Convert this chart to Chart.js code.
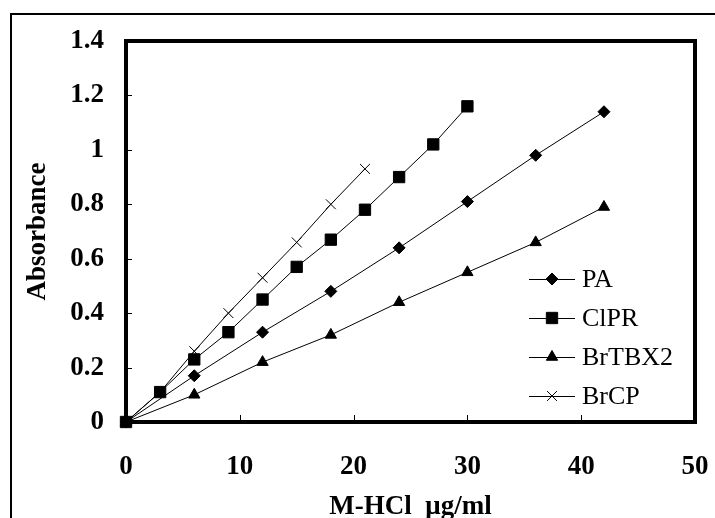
<!DOCTYPE html>
<html lang="en">
<head>
    <meta charset="UTF-8">
    <title>Absorbance vs M-HCl</title>
    <script src="https://cdn.jsdelivr.net/npm/chart.js"></script>
    <style>
        html, body {
            margin: 0;
            padding: 0;
            background: white;
        }
        #wrap {
            width: 715px;
            height: 518px;
        }
    </style>
</head>
<body>
    <div id="wrap"><canvas id="myChart"></canvas></div>
    <script>
        // concentrations (ug/ml) and absorbances
        const paX = [0, 6, 12, 18, 24, 30, 36, 42];
        const paY = [0, 0.17, 0.33, 0.48, 0.64, 0.81, 0.98, 1.14];

        const clprX = [0, 3, 6, 9, 12, 15, 18, 21, 24, 27, 30];
        const clprY = [0, 0.11, 0.23, 0.33, 0.45, 0.57, 0.67, 0.78, 0.90, 1.02, 1.16];

        const brtbxX = [0, 6, 12, 18, 24, 30, 36, 42];
        const brtbxY = [0, 0.10, 0.22, 0.32, 0.44, 0.55, 0.66, 0.79];

        const brcpX = [0, 3, 6, 9, 12, 15, 18, 21];
        const brcpY = [0, 0.11, 0.26, 0.40, 0.53, 0.66, 0.80, 0.93];

        const seriesNames = ['PA', 'ClPR', 'BrTBX2', 'BrCP'];
        const xTicks = [0, 10, 20, 30, 40, 50];
        const yTicks = [0, 0.2, 0.4, 0.6, 0.8, 1, 1.2, 1.4];

        const serif = "'Liberation Serif', 'Times New Roman', serif";

        function toPoints(xs, ys) {
            return xs.map((x, i) => ({ x: x, y: ys[i] }));
        }

        function makeSet(label, xs, ys, style, radius) {
            return {
                label: label,
                data: toPoints(xs, ys),
                showLine: true,
                borderColor: '#000',
                backgroundColor: '#000',
                borderWidth: 1,
                pointStyle: style,
                pointRadius: radius,
                pointBorderWidth: 1,
                pointBackgroundColor: '#000',
                pointBorderColor: '#000',
                clip: false
            };
        }

        // frame, inward ticks and legend drawn on the canvas
        const decorPlugin = {
            id: 'decor',
            beforeDraw(chart) {
                const ctx = chart.ctx;
                ctx.save();
                ctx.strokeStyle = '#000';
                ctx.lineWidth = 2;
                ctx.beginPath();
                ctx.moveTo(11, chart.height);
                ctx.lineTo(11, 14);
                ctx.lineTo(chart.width, 14);
                ctx.stroke();
                ctx.restore();
            },
            afterDraw(chart) {
                const ctx = chart.ctx;
                const a = chart.chartArea;
                const xs = chart.scales.x;
                const ys = chart.scales.y;
                ctx.save();
                ctx.strokeStyle = '#000';
                ctx.lineWidth = 1;
                ctx.beginPath();
                xTicks.forEach(v => {
                    const px = Math.round(xs.getPixelForValue(v)) + 0.5;
                    ctx.moveTo(px, a.bottom);
                    ctx.lineTo(px, a.bottom - 7);
                });
                yTicks.forEach(v => {
                    const py = Math.round(ys.getPixelForValue(v)) + 0.5;
                    ctx.moveTo(a.left, py);
                    ctx.lineTo(a.left + 6, py);
                });
                ctx.stroke();

                ctx.lineWidth = 4;
                ctx.strokeRect(a.left, a.top, a.right - a.left, a.bottom - a.top);

                // legend
                const lx = 529, lw = 46, ly = 279, gap = 39;
                ctx.font = "26px " + serif;
                ctx.textBaseline = 'middle';
                ctx.textAlign = 'left';
                ctx.fillStyle = '#000';
                chart.data.datasets.forEach((ds, i) => {
                    const y = ly + i * gap;
                    ctx.lineWidth = 1;
                    ctx.beginPath();
                    ctx.moveTo(lx, y + 0.5);
                    ctx.lineTo(lx + lw, y + 0.5);
                    ctx.stroke();
                    Chart.helpers.drawPoint(ctx, {
                        pointStyle: ds.pointStyle,
                        radius: ds.pointRadius,
                        rotation: 0,
                        borderWidth: 1
                    }, lx + lw / 2, y);
                    ctx.fillText(ds.label, lx + lw + 7, y + 1);
                });
                ctx.restore();
            }
        };

        const ctx = document.getElementById('myChart').getContext('2d');
        const myChart = new Chart(ctx, {
            type: 'scatter',
            data: {
                datasets: [
                    makeSet(seriesNames[0], paX, paY, 'rectRot', 6),
                    makeSet(seriesNames[1], clprX, clprY, 'rect', 8),
                    makeSet(seriesNames[2], brtbxX, brtbxY, 'triangle', 6.5),
                    makeSet(seriesNames[3], brcpX, brcpY, 'crossRot', 7)
                ]
            },
            options: {
                responsive: true,
                maintainAspectRatio: false,
                animation: false,
                layout: {
                    padding: { top: 41, right: 20, bottom: 0, left: 0 }
                },
                plugins: {
                    legend: { display: false },
                    tooltip: { enabled: false }
                },
                scales: {
                    x: {
                        type: 'linear',
                        min: 0,
                        max: 50,
                        afterFit(scale) {
                            scale.height = 96;
                            scale.paddingLeft = 0;
                            scale.paddingRight = 0;
                        },
                        afterBuildTicks(scale) {
                            scale.ticks = xTicks.map(v => ({ value: v }));
                        },
                        grid: { display: false, drawTicks: false },
                        border: { display: false },
                        ticks: {
                            padding: 29,
                            color: '#000',
                            maxRotation: 0,
                            font: { family: serif, size: 27, weight: 'bold' }
                        },
                        title: {
                            display: true,
                            text: 'M-HCl  \u03bcg/ml',
                            color: '#000',
                            padding: { top: 0, bottom: -3 },
                            font: { family: serif, size: 27, weight: 'bold', lineHeight: 1 }
                        }
                    },
                    y: {
                        type: 'linear',
                        min: 0,
                        max: 1.4,
                        afterFit(scale) {
                            scale.width = 126;
                            scale.paddingTop = 0;
                            scale.paddingBottom = 0;
                        },
                        afterBuildTicks(scale) {
                            scale.ticks = yTicks.map(v => ({ value: v }));
                        },
                        grid: { display: false, drawTicks: false },
                        border: { display: false },
                        ticks: {
                            padding: 22,
                            color: '#000',
                            callback: v => String(v),
                            font: { family: serif, size: 27, weight: 'bold' }
                        },
                        title: {
                            display: true,
                            text: 'Absorbance',
                            color: '#000',
                            padding: { top: 23, bottom: 0 },
                            font: { family: serif, size: 27, weight: 'bold', lineHeight: 1.1 }
                        }
                    }
                }
            },
            plugins: [decorPlugin]
        });
    </script>
</body>
</html>
